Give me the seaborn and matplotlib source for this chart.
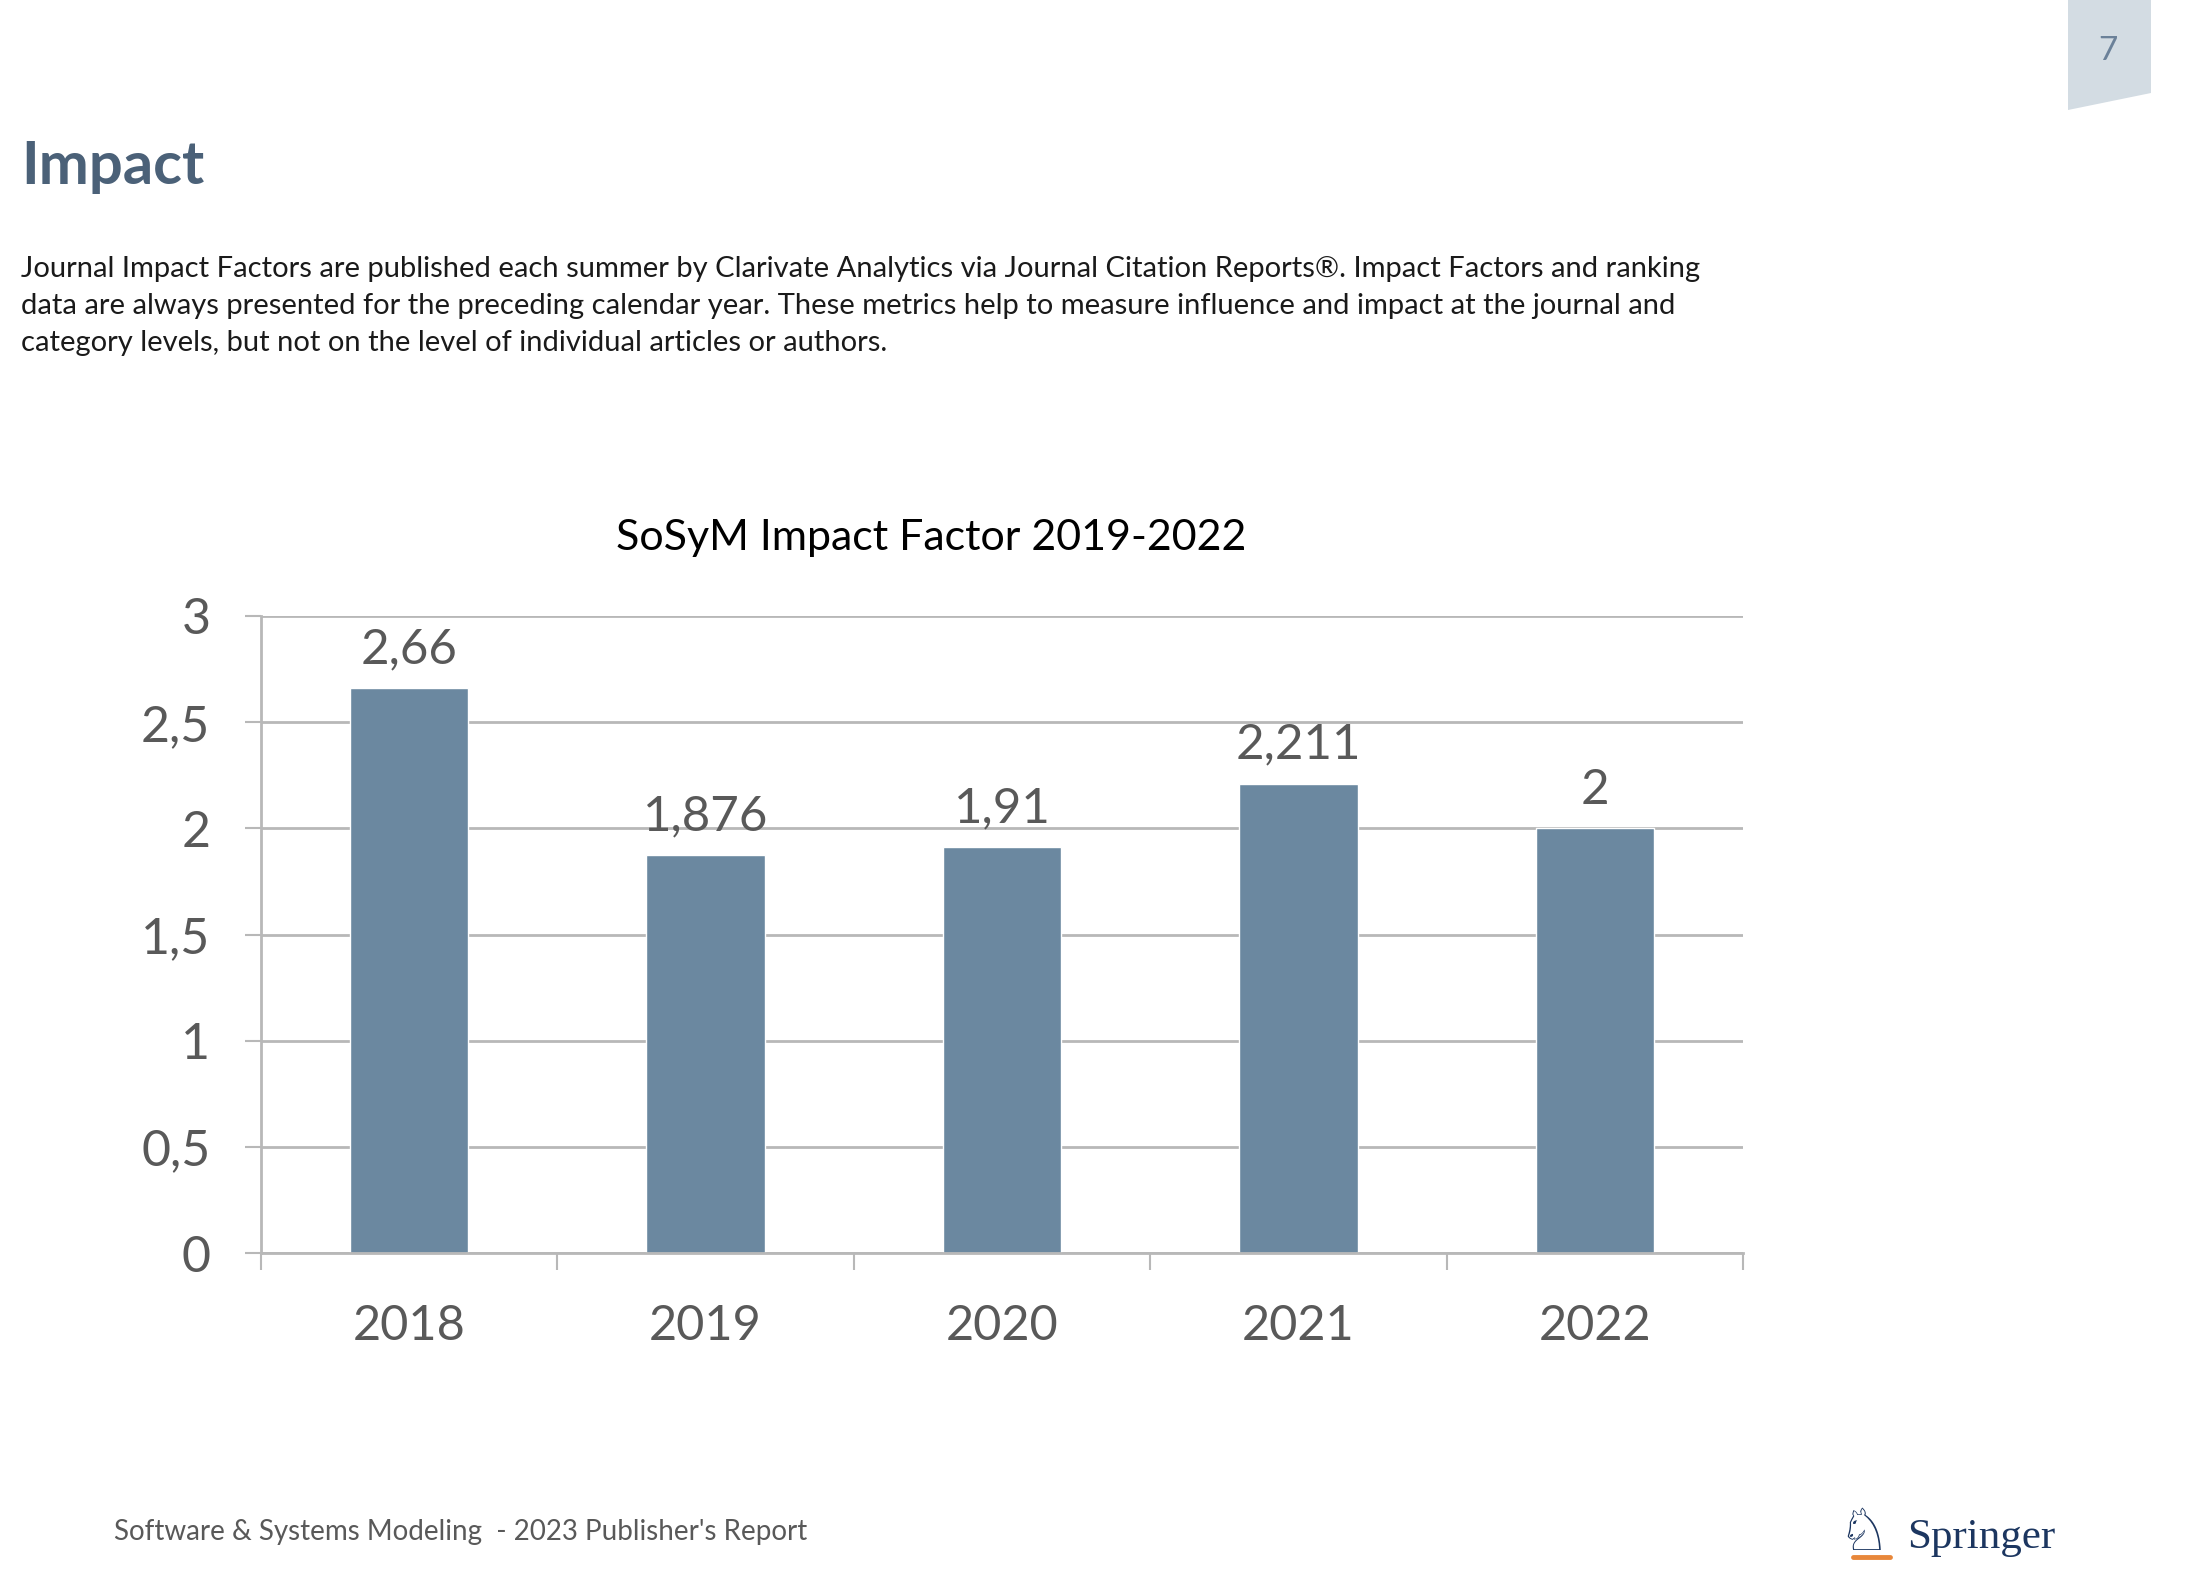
import matplotlib
matplotlib.use('Agg')
import matplotlib.pyplot as plt
from matplotlib.patches import Polygon
from matplotlib.lines import Line2D
from matplotlib.ticker import FuncFormatter
import seaborn as sns
import pandas as pd
import numpy as np

# chart data
years = ['2018', '2019', '2020', '2021', '2022']
impact = [2.66, 1.876, 1.91, 2.211, 2.0]
value_labels = ['2,66', '1,876', '1,91', '2,211', '2']
y_ticks = [0, 0.5, 1, 1.5, 2, 2.5, 3]

# slide texts
page_title = 'Impact'
paragraph = [
    'Journal Impact Factors are published each summer by Clarivate Analytics via Journal Citation Reports®. Impact Factors and ranking',
    'data are always presented for the preceding calendar year. These metrics help to measure influence and impact at the journal and',
    'category levels, but not on the level of individual articles or authors.',
]
chart_title = 'SoSyM Impact Factor 2019-2022'
footer = "Software & Systems Modeling  - 2023 Publisher's Report"

BAR = '#6b88a0'
GRID = '#b8b8b8'
LABEL = '#595959'
NAVY = '#1c3660'

W, H = 2201, 1587


def fx(x):
    return x / W


def fy(y):
    return 1 - y / H


sns.set_theme(style='white')
plt.rcParams['font.family'] = ['Lato', 'DejaVu Sans']

fig = plt.figure(figsize=(W / 100, H / 100), dpi=100)

# bar chart
ax = fig.add_axes([fx(261), fy(1253), (1743 - 261) / W, (1253 - 616) / H])
df = pd.DataFrame({'year': years, 'impact': impact})
sns.barplot(data=df, x='year', y='impact', color=BAR, saturation=1, width=0.4, ax=ax)
ax.set_xlim(-0.5, 4.5)
ax.set_ylim(0, 3)
ax.set_yticks(y_ticks)
ax.yaxis.set_major_formatter(FuncFormatter(lambda v, p: f'{v:g}'.replace('.', ',')))
ax.yaxis.grid(True, color=GRID, lw=2)
ax.xaxis.grid(False)
ax.set_axisbelow(True)
for s in ['top', 'right']:
    ax.spines[s].set_visible(False)
for s in ['left', 'bottom']:
    ax.spines[s].set_color(GRID)
    ax.spines[s].set_linewidth(2)
ax.tick_params(axis='y', left=True, length=11.5, width=1.5, color=GRID, pad=25,
               labelsize=36, labelcolor=LABEL)
ax.tick_params(axis='x', length=0, pad=37, labelsize=35, labelcolor=LABEL)
ax.set_xticks(np.arange(-0.5, len(years), 1), minor=True)
ax.tick_params(axis='x', which='minor', bottom=True, length=12, width=1.5, color=GRID)
ax.set_xlabel('')
ax.set_ylabel('')
ax.bar_label(ax.containers[0], labels=value_labels, padding=12, fontsize=35.5, color=LABEL)

# slide decoration
fig.text(fx(931), fy(550), chart_title, fontsize=31, ha='center', va='baseline', color='black')
fig.text(fx(21), fy(184), page_title, fontsize=43, weight='bold', color='#4b6178', va='baseline')
for i, line in enumerate(paragraph):
    fig.text(fx(21), fy(277 + 37 * i), line, fontsize=21, color='#1a1a1a', va='baseline')
fig.text(fx(114), fy(1540), footer, fontsize=20, color=LABEL, va='baseline')

# page tab
tab = Polygon([(fx(2068), fy(0)), (fx(2151), fy(0)), (fx(2151), fy(93)), (fx(2068), fy(110))],
              closed=True, transform=fig.transFigure, facecolor='#d3dce3', edgecolor='none')
fig.add_artist(tab)
fig.text(fx(2108), fy(51), '7', fontsize=24, color='#6b8199', ha='center', va='center')

# springer logo
fig.text(fx(1907), fy(1548), 'Springer', family='Liberation Serif', fontsize=31, color=NAVY, va='baseline')
fig.text(fx(1864), fy(1550), '♘', family='DejaVu Sans', fontsize=42, color=NAVY, ha='center', va='baseline')
fig.add_artist(Line2D([fx(1853), fx(1890)], [fy(1557), fy(1557)], color='#e8873a', lw=3.5,
                      transform=fig.transFigure))

fig.savefig('out.png', dpi=100)
